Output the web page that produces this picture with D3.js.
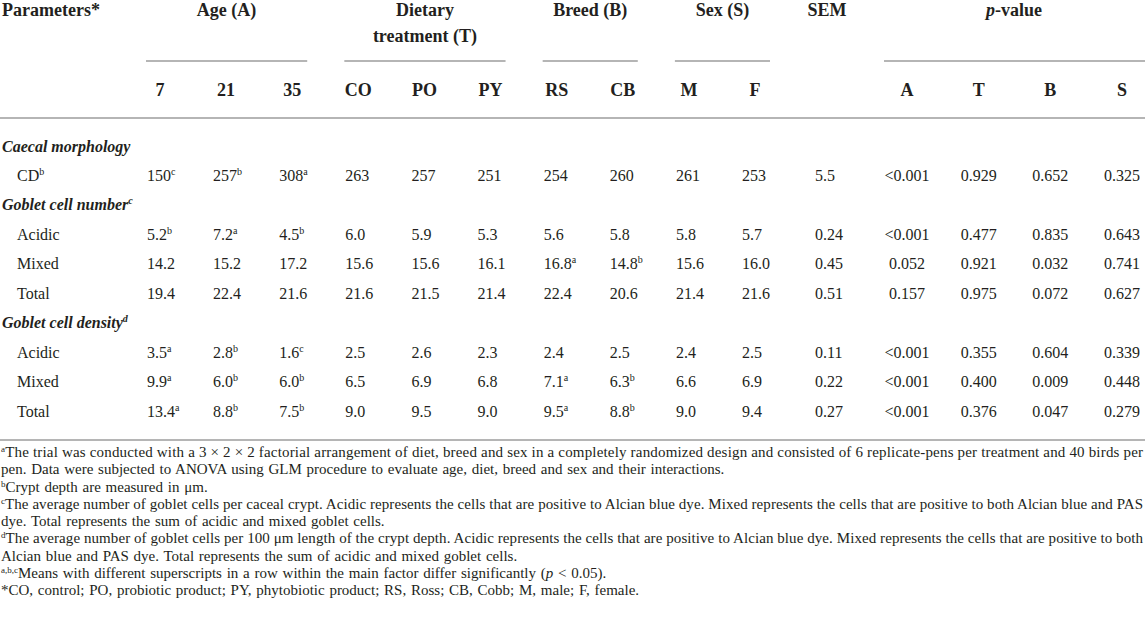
<!DOCTYPE html>
<html>
<head>
<meta charset="utf-8">
<script src="https://cdn.jsdelivr.net/npm/d3@7"></script>
<style>
  body { margin: 0; background: #fff; }
  text { font-family: "Liberation Serif", "Times New Roman", serif; fill: #231f20; }
</style>
</head>
<body>
<script>
// column levels
var ageLevels = ['7', '21', '35'];
var dietLevels = ['CO', 'PO', 'PY'];
var breedLevels = ['RS', 'CB'];
var sexLevels = ['M', 'F'];
var pLabels = ['A', 'T', 'B', 'S'];

var sections = ['Caecal morphology', 'Goblet cell number', 'Goblet cell density'];
var sectionNotes = ['', 'c', 'd'];
var rowNames = ['CD', 'Acidic', 'Mixed', 'Total', 'Acidic', 'Mixed', 'Total'];
var rowNotes = ['b', '', '', '', '', '', ''];
var rowSection = [0, 1, 1, 1, 2, 2, 2];

// means: 7, 21, 35, CO, PO, PY, RS, CB, M, F
var means = [
    [150, 257, 308, 263, 257, 251, 254, 260, 261, 253],
    [5.2, 7.2, 4.5, 6.0, 5.9, 5.3, 5.6, 5.8, 5.8, 5.7],
    [14.2, 15.2, 17.2, 15.6, 15.6, 16.1, 16.8, 14.8, 15.6, 16.0],
    [19.4, 22.4, 21.6, 21.6, 21.5, 21.4, 22.4, 20.6, 21.4, 21.6],
    [3.5, 2.8, 1.6, 2.5, 2.6, 2.3, 2.4, 2.5, 2.4, 2.5],
    [9.9, 6.0, 6.0, 6.5, 6.9, 6.8, 7.1, 6.3, 6.6, 6.9],
    [13.4, 8.8, 7.5, 9.0, 9.5, 9.0, 9.5, 8.8, 9.0, 9.4]
];
var letters = [
    ['c', 'b', 'a', '', '', '', '', '', '', ''],
    ['b', 'a', 'b', '', '', '', '', '', '', ''],
    ['', '', '', '', '', '', 'a', 'b', '', ''],
    ['', '', '', '', '', '', '', '', '', ''],
    ['a', 'b', 'c', '', '', '', '', '', '', ''],
    ['a', 'b', 'b', '', '', '', 'a', 'b', '', ''],
    ['a', 'b', 'b', '', '', '', 'a', 'b', '', '']
];
var sem = [5.5, 0.24, 0.45, 0.51, 0.11, 0.22, 0.27];
var pValues = [
    ['<0.001', '0.929', '0.652', '0.325'],
    ['<0.001', '0.477', '0.835', '0.643'],
    ['0.052', '0.921', '0.032', '0.741'],
    ['0.157', '0.975', '0.072', '0.627'],
    ['<0.001', '0.355', '0.604', '0.339'],
    ['<0.001', '0.400', '0.009', '0.448'],
    ['<0.001', '0.376', '0.047', '0.279']
];

var footnotes = [
    { sup: 'a', text: 'The trial was conducted with a 3 \u00d7 2 \u00d7 2 factorial arrangement of diet, breed and sex in a completely randomized design and consisted of 6 replicate-pens per treatment and 40 birds per', justify: true },
    { sup: '', text: 'pen. Data were subjected to ANOVA using GLM procedure to evaluate age, diet, breed and sex and their interactions.', justify: false },
    { sup: 'b', text: 'Crypt depth are measured in \u03bcm.', justify: false },
    { sup: 'c', text: 'The average number of goblet cells per caceal crypt. Acidic represents the cells that are positive to Alcian blue dye. Mixed represents the cells that are positive to both Alcian blue and PAS', justify: true },
    { sup: '', text: 'dye. Total represents the sum of acidic and mixed goblet cells.', justify: false },
    { sup: 'd', text: 'The average number of goblet cells per 100 \u03bcm length of the crypt depth. Acidic represents the cells that are positive to Alcian blue dye. Mixed represents the cells that are positive to both', justify: true },
    { sup: '', text: 'Alcian blue and PAS dye. Total represents the sum of acidic and mixed goblet cells.', justify: false },
    { sup: 'a,b,c', text: 'Means with different superscripts in a row within the main factor differ significantly (|p| < 0.05).', justify: false },
    { sup: '', text: '*CO, control; PO, probiotic product; PY, phytobiotic product; RS, Ross; CB, Cobb; M, male; F, female.', justify: false }
];

var width = 1145, height = 634;
var groupCols = ageLevels.concat(dietLevels, breedLevels, sexLevels);
var groups = [
    { lines: ['Age (A)'], cols: ageLevels },
    { lines: ['Dietary', 'treatment (T)'], cols: dietLevels },
    { lines: ['Breed (B)'], cols: breedLevels },
    { lines: ['Sex (S)'], cols: sexLevels }
];

var svg = d3.select('body').append('svg')
    .attr('width', width)
    .attr('height', height);

// column scales (left edge of values)
var x = d3.scalePoint().domain(groupCols).range([147, 742]);
var xSem = 815;
var xp = d3.scalePoint().domain(pLabels).range([907, 1122]);

// table lines: section headers and rows share one vertical scale
var lineCount = rowNames.length + sections.length;
var y = d3.scaleLinear().domain([0, lineCount - 1]).range([146, 411]);

var rule = '#b5b5b5';

// superscript at the end of a text
function addSup(sel, s, size, dy) {
    if (!s) return;
    sel.append('tspan').attr('font-size', size).attr('dy', -dy).text(s);
}

// ---- header ----
var head = svg.append('g').attr('font-weight', 'bold').attr('font-size', 18);

head.append('text').attr('x', 2).attr('y', 16).text('Parameters*');

groups.forEach(function (g) {
    var x1 = x(g.cols[0]) - 1;
    var x2 = x(g.cols[g.cols.length - 1]) + 28;
    g.lines.forEach(function (l, i) {
        head.append('text')
            .attr('x', (x1 + x2) / 2)
            .attr('y', 16 + i * 26)
            .attr('text-anchor', 'middle')
            .text(l);
    });
    svg.append('line')
        .attr('x1', x1).attr('x2', x2)
        .attr('y1', 61).attr('y2', 61)
        .attr('stroke', rule).attr('stroke-width', 2);
});

head.append('text').attr('x', xSem + 12).attr('y', 16).attr('text-anchor', 'middle').text('SEM');

var pv = head.append('text').attr('x', 1014).attr('y', 16).attr('text-anchor', 'middle');
pv.append('tspan').attr('font-style', 'italic').text('p');
pv.append('tspan').text('-value');
svg.append('line')
    .attr('x1', 884).attr('x2', width)
    .attr('y1', 61).attr('y2', 61)
    .attr('stroke', rule).attr('stroke-width', 2);

head.selectAll('.colhead')
    .data(groupCols)
    .join('text')
    .attr('class', 'colhead')
    .attr('x', function (d) { return x(d) + 13; })
    .attr('y', 96)
    .attr('text-anchor', 'middle')
    .text(function (d) { return d; });

head.selectAll('.phead')
    .data(pLabels)
    .join('text')
    .attr('class', 'phead')
    .attr('x', function (d) { return xp(d); })
    .attr('y', 96)
    .attr('text-anchor', 'middle')
    .text(function (d) { return d; });

[118, 440].forEach(function (yy) {
    svg.append('line')
        .attr('x1', 0).attr('x2', width)
        .attr('y1', yy).attr('y2', yy)
        .attr('stroke', rule).attr('stroke-width', 2);
});

// ---- body ----
var body = svg.append('g').attr('font-size', 16);
var line = 0;
rowNames.forEach(function (name, r) {
    if (r === 0 || rowSection[r] !== rowSection[r - 1]) {
        var s = rowSection[r];
        var st = body.append('text')
            .attr('x', 2).attr('y', y(line) + 5.5)
            .attr('font-weight', 'bold').attr('font-style', 'italic')
            .text(sections[s]);
        addSup(st, sectionNotes[s], 10, 6);
        line++;
    }
    var yy = y(line) + 5.5;
    var fmt = r === 0 ? d3.format('.0f') : d3.format('.1f');
    var semFmt = r === 0 ? d3.format('.1f') : d3.format('.2f');

    var lab = body.append('text').attr('x', 17).attr('y', yy).text(name);
    addSup(lab, rowNotes[r], 10, 6);

    body.selectAll('.v' + r)
        .data(means[r])
        .join('text')
        .attr('class', 'v' + r)
        .attr('x', function (d, i) { return x(groupCols[i]); })
        .attr('y', yy)
        .each(function (d, i) {
            var t = d3.select(this);
            t.append('tspan').text(fmt(d));
            addSup(t, letters[r][i], 10, 6);
        });

    body.append('text')
        .attr('x', xSem).attr('y', yy)
        .text(semFmt(sem[r]));

    body.selectAll('.p' + r)
        .data(pValues[r])
        .join('text')
        .attr('class', 'p' + r)
        .attr('x', function (d, i) { return xp(pLabels[i]); })
        .attr('y', yy)
        .attr('text-anchor', 'middle')
        .text(function (d) { return d; });

    line++;
});

// ---- footnotes ----
var fy = d3.scaleLinear().domain([0, footnotes.length - 1]).range([452, 590]);
var foot = svg.append('g').attr('font-size', 15);
footnotes.forEach(function (f, i) {
    var t = foot.append('text')
        .attr('x', 1)
        .attr('y', fy(i) + 5);
    var shift = 0;
    if (f.sup) {
        t.append('tspan').attr('font-size', 9).attr('dy', -5).text(f.sup);
        shift = 5;
    }
    var parts = f.text.split('|');
    parts.forEach(function (p, k) {
        var sp = t.append('tspan').text(p);
        if (k === 0 && shift) sp.attr('dy', shift);
        if (k % 2 === 1) sp.attr('font-style', 'italic');
    });
    if (f.justify) {
        t.attr('textLength', width - 3).attr('lengthAdjust', 'spacing');
    } else {
        t.attr('word-spacing', 1);
    }
});
</script>
</body>
</html>
